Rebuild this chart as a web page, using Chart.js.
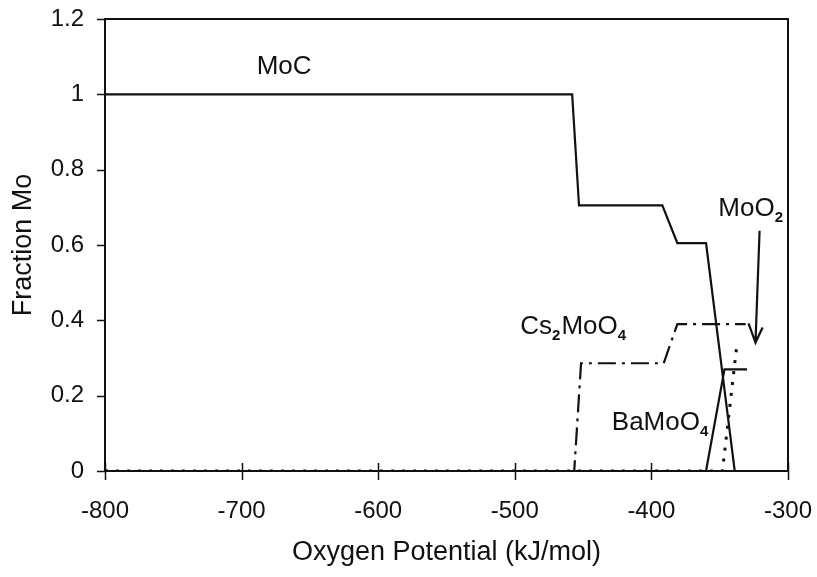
<!DOCTYPE html>
<html>
<head>
<meta charset="utf-8">
<script src="https://cdn.jsdelivr.net/npm/chart.js@4/dist/chart.umd.min.js"></script>
<style>
  html, body { margin: 0; padding: 0; background: #fff; }
  #wrap { width: 817px; height: 577px; }
</style>
</head>
<body>
<div id="wrap"><canvas id="chart"></canvas></div>
<script>
// values (x = oxygen potential kJ/mol, y = fraction Mo)
const mocX = [-800, -458, -453, -392, -381, -360, -339, -300];
const mocY = [1, 1, 0.705, 0.705, 0.605, 0.605, 0, 0];

const cs2moo4X = [-800, -456.5, -451.5, -391, -381, -331];
const cs2moo4Y = [0, 0, 0.286, 0.286, 0.39, 0.39];

const bamoo4X = [-800, -360, -346.5, -330];
const bamoo4Y = [0, 0, 0.27, 0.27];

const moo2X = [-800, -348, -337.5];
const moo2Y = [0, 0, 0.333];

const xTicks = ['-800', '-700', '-600', '-500', '-400', '-300'];
const yTicks = ['0', '0.2', '0.4', '0.6', '0.8', '1', '1.2'];

const FONT = 'Liberation Sans, Arial, Helvetica, sans-serif';
const INK = '#111';

const toPoints = (xs, ys) => xs.map((x, i) => ({ x, y: ys[i] }));

// in-plot labels, anchored in data units (left edge, baseline)
const labels = [
  { x: -689, y: 1.054, parts: [['MoC']] },
  { x: -496, y: 0.365, parts: [['Cs'], ['2', 1], ['MoO'], ['4', 1]] },
  { x: -429, y: 0.108, parts: [['BaMoO'], ['4', 1]] },
  { x: -351, y: 0.677, parts: [['MoO'], ['2', 1]] },
];
const arrow = { from: [-320.8, 0.638], tip: [-323.8, 0.341], left: [-328.9, 0.392], right: [-318.6, 0.381] };

const framePlugin = {
  id: 'frame',
  afterDatasetsDraw(chart) {
    const { ctx, chartArea: a, scales: { x, y } } = chart;
    ctx.save();
    ctx.strokeStyle = INK;
    ctx.lineWidth = 2;
    ctx.strokeRect(a.left, a.top, a.right - a.left, a.bottom - a.top);

    ctx.lineWidth = 1.5;
    y.ticks.forEach(t => {
      const py = Math.round(y.getPixelForValue(t.value)) + 0.5;
      ctx.beginPath(); ctx.moveTo(a.left - 8, py); ctx.lineTo(a.left, py); ctx.stroke();
    });
    x.ticks.forEach(t => {
      const px = Math.round(x.getPixelForValue(t.value)) + 0.5;
      ctx.beginPath(); ctx.moveTo(px, a.bottom - 8); ctx.lineTo(px, a.bottom + 9); ctx.stroke();
    });

    // MoO2 arrow
    const P = p => [x.getPixelForValue(p[0]), y.getPixelForValue(p[1])];
    ctx.lineWidth = 2.2;
    ctx.beginPath();
    ctx.moveTo(...P(arrow.from)); ctx.lineTo(...P(arrow.tip));
    ctx.moveTo(...P(arrow.left)); ctx.lineTo(...P(arrow.tip)); ctx.lineTo(...P(arrow.right));
    ctx.stroke();

    // labels with subscripts
    ctx.fillStyle = INK;
    ctx.textBaseline = 'alphabetic';
    labels.forEach(l => {
      let px = x.getPixelForValue(l.x);
      const py = y.getPixelForValue(l.y);
      l.parts.forEach(([txt, sub]) => {
        ctx.font = (sub ? 'bold 15px ' : '26px ') + FONT;
        ctx.fillText(txt, px, sub ? py + 6 : py);
        px += ctx.measureText(txt).width + (sub ? 1 : 0);
      });
    });
    ctx.restore();
  }
};

const line = (label, xs, ys, extra) => Object.assign({
  label, data: toPoints(xs, ys), borderColor: INK, borderWidth: 2.2,
  pointRadius: 0, tension: 0, fill: false
}, extra);

new Chart(document.getElementById('chart'), {
  type: 'line',
  data: {
    datasets: [
      line('MoC', mocX, mocY),
      line('Cs2MoO4', cs2moo4X, cs2moo4Y, { borderDash: [18, 6, 3, 6] }),
      line('BaMoO4', bamoo4X, bamoo4Y),
      line('MoO2', moo2X, moo2Y, { borderWidth: 3, borderDash: [3, 8] }),
    ]
  },
  options: {
    responsive: true, maintainAspectRatio: false, animation: false,
    layout: { padding: { top: 19, right: 29, left: 0, bottom: 0 } },
    plugins: { legend: { display: false }, tooltip: { enabled: false } },
    scales: {
      x: {
        type: 'linear', min: -800, max: -300,
        afterFit: s => { s.height = 106; s.paddingLeft = 0; s.paddingRight = 0; },
        grid: { display: false, drawTicks: false },
        border: { display: false },
        ticks: {
          stepSize: 100, color: INK, padding: 26, maxRotation: 0,
          font: { family: FONT, size: 24 },
          callback: (v, i) => xTicks[i]
        },
        title: {
          display: true, text: 'Oxygen Potential (kJ/mol)', color: INK,
          font: { family: FONT, size: 27 }, padding: { top: 0, bottom: 8 }
        }
      },
      y: {
        min: 0, max: 1.2,
        afterFit: s => { s.width = 105; s.paddingTop = 0; s.paddingBottom = 0; },
        grid: { display: false, drawTicks: false },
        border: { display: false },
        ticks: {
          stepSize: 0.2, color: INK, padding: 21,
          font: { family: FONT, size: 24 },
          callback: (v, i) => yTicks[i]
        },
        title: {
          display: true, text: 'Fraction Mo', color: INK,
          font: { family: FONT, size: 27 }, padding: { top: 7, bottom: 0 }
        }
      }
    }
  },
  plugins: [framePlugin]
});
</script>
</body>
</html>
